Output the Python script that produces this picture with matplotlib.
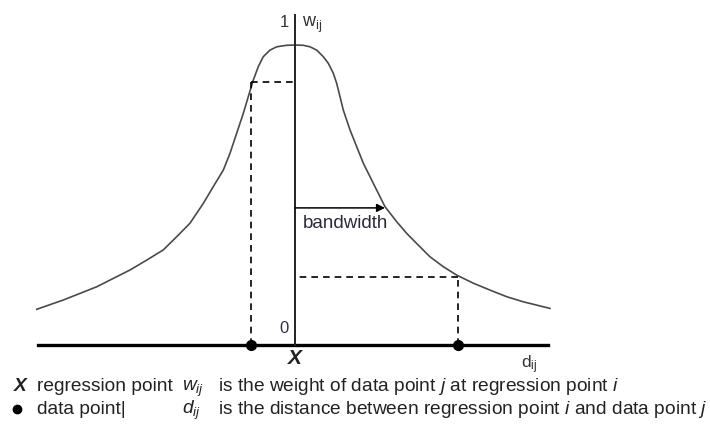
"""Kernel weighting diagram: weight w_ij against distance d_ij."""

import matplotlib

matplotlib.use("Agg")
import matplotlib.pyplot as plt

plt.rcParams["font.family"] = ["Liberation Sans", "DejaVu Sans"]
plt.rcParams["mathtext.fontset"] = "custom"
plt.rcParams["mathtext.rm"] = "Liberation Sans"
plt.rcParams["mathtext.it"] = "Liberation Sans:italic"
plt.rcParams["mathtext.bf"] = "Liberation Sans:bold"

W, H = 710, 424

# curve: distance from regression point and weight
curve_d = [-258.3, -231.7, -215, -198.3, -181.7, -165, -148.3, -131.7, -118.3,
           -105, -91.7, -81.7, -71.7, -65, -58.3, -51.7, -46.7, -41.7, -36.7,
           -31.7, -25, -18.3, -8.3, 0, 8.3, 15, 21.7, 28.3, 33.3, 38.3, 41.7,
           45, 48.3, 55, 61.7, 68.3, 78.3, 90, 101.7, 111.7, 123.3, 135,
           148.3, 161.7, 178.3, 195, 211.7, 228.3, 255]
curve_w = [0.119, 0.150, 0.172, 0.194, 0.222, 0.250, 0.283, 0.317, 0.361,
           0.406, 0.472, 0.528, 0.583, 0.639, 0.706, 0.772, 0.828, 0.883,
           0.928, 0.961, 0.983, 0.994, 0.999, 1.000, 0.999, 0.994, 0.983,
           0.961, 0.939, 0.906, 0.872, 0.828, 0.783, 0.717, 0.661, 0.606,
           0.539, 0.461, 0.411, 0.372, 0.333, 0.294, 0.261, 0.233, 0.206,
           0.183, 0.161, 0.144, 0.122]

data_d = [-44, 163]
data_w = [0.877, 0.227]
bandwidth = 90
bandwidth_w = 0.457
axis_left, axis_right = -257, 253

ink = "#222222"
curve_col = "#4a4a4a"

fig = plt.figure(figsize=(W / 100, H / 100), dpi=100)
ax = fig.add_axes([0, 0, 1, 1])
# map: d = x_px - 295, w = (345 - y_px) / 300
ax.set_xlim(-295, W - 295)
ax.set_ylim((345 - H) / 300, 345 / 300)
ax.axis("off")

ax.plot(curve_d, curve_w, color=curve_col, lw=1.2, solid_joinstyle="round")

# axes of the diagram
ax.plot([axis_left, axis_right], [0, 0], color="black", lw=2.4)
ax.plot([0, 0], [0, 1.1], color=ink, lw=1.4)

# dashed guides from each data point to its weight
for d, w in zip(data_d, data_w):
    ax.plot([d, d], [0, w], color="black", lw=1.2, ls=(0, (4, 3)))
    ax.plot([d, 0], [w, w], color="black", lw=1.2, ls=(0, (4, 3)))
ax.plot(data_d, [0, 0], "o", color="black", ms=7, zorder=5)

ax.annotate("", xy=(bandwidth, bandwidth_w), xytext=(0, bandwidth_w),
            arrowprops=dict(arrowstyle="-|>", color="black", lw=1.1,
                            mutation_scale=12, shrinkA=0, shrinkB=0))


def px(x, y):
    return x / W, 1 - y / H


fig.text(*px(303, 228), "bandwidth", fontsize=13.5, color="#2a2a3a",
         ha="left", va="baseline")
fig.text(*px(289, 27), "1", fontsize=12, color="#333333", ha="right",
         va="baseline")
fig.text(*px(302, 27), r"w$_{\mathregular{ij}}$", fontsize=13,
         color="#333333", ha="left", va="baseline")
fig.text(*px(289, 333), "0", fontsize=12, color="#333344", ha="right",
         va="baseline")
fig.text(*px(295, 364), "X", fontsize=15, fontweight="bold", style="italic",
         color=ink, ha="center", va="baseline")
fig.text(*px(521, 368), r"d$_{\mathregular{ij}}$", fontsize=12.5,
         color="#333333", ha="left", va="baseline")

# legend lines
fs = 13.8
y1, y2 = 391, 414
fig.text(*px(14, y1), "X", fontsize=fs, fontweight="bold", style="italic",
         color=ink, ha="left", va="baseline")
fig.text(*px(37, y1), "regression point", fontsize=fs, color=ink,
         ha="left", va="baseline")
fig.text(*px(182, y1), r"$w_{ij}$", fontsize=fs, color=ink,
         ha="left", va="baseline")
fig.text(*px(218, y1),
         r"is the weight of data point $j$ at regression point $i$",
         fontsize=fs, color=ink, ha="left", va="baseline")
ax.plot([17 - 295], [(345 - 409) / 300], "o", color="black", ms=6,
        clip_on=False)
fig.text(*px(37, y2), "data point|", fontsize=fs, color=ink,
         ha="left", va="baseline")
fig.text(*px(182, y2), r"$d_{ij}$", fontsize=fs, color=ink,
         ha="left", va="baseline")
fig.text(*px(218, y2),
         r"is the distance between regression point $i$ and data point $j$",
         fontsize=fs, color=ink, ha="left", va="baseline")

fig.savefig("out.png", dpi=100, facecolor="white")
